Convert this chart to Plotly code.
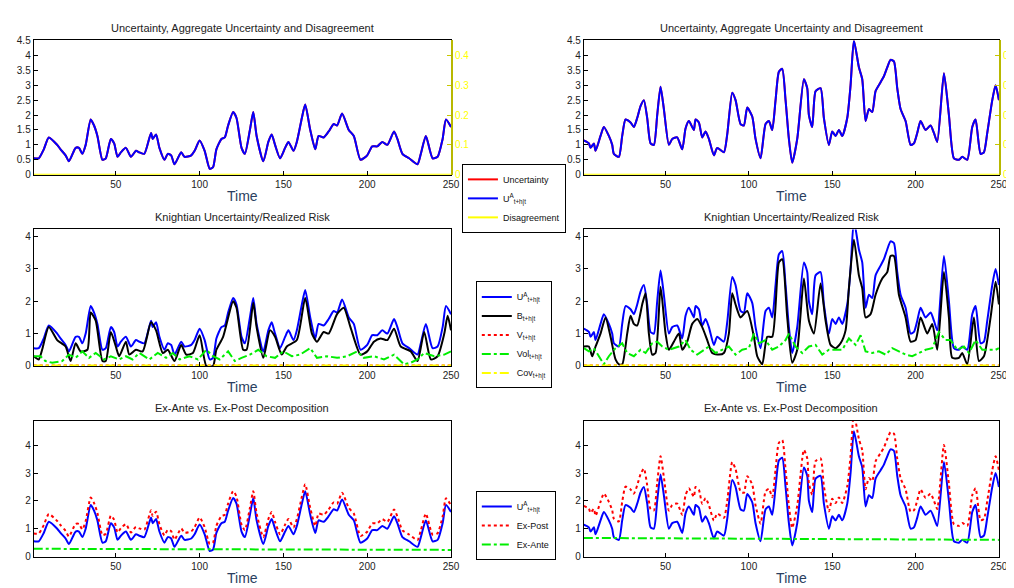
import numpy as np
import plotly.graph_objects as go

# ---- data (time index, value) ----
u_left_t = [1, 4, 7, 10, 15, 17, 20, 22, 26, 28, 30, 32, 35, 37, 39, 42, 44, 47, 49, 51, 53, 56, 59, 62,
            64, 67, 71, 72, 74, 76, 79, 81, 83, 85, 89, 91, 95, 97, 100, 103, 106, 108, 110, 113, 115, 117,
            120, 122, 125, 127, 130, 132, 134, 138, 141, 143, 145, 148, 151, 153, 156, 158, 161, 163, 166,
            169, 171, 174, 177, 180, 182, 185, 189, 192, 196, 200, 203, 206, 209, 212, 216, 218, 221, 225,
            230, 232, 235, 239, 242, 245, 247, 250]
u_left = [0.55, 0.55, 0.85, 1.25, 1.0, 0.85, 0.65, 0.45, 0.9, 0.9, 0.7, 1.0, 1.85, 1.65, 1.3, 0.5, 0.55,
          1.2, 1.05, 0.6, 0.75, 0.9, 0.6, 0.8, 0.75, 0.7, 1.4, 1.2, 1.35, 0.9, 0.5, 0.7, 0.65, 0.35, 0.75,
          0.6, 0.65, 0.8, 1.15, 0.8, 0.2, 0.25, 0.85, 1.2, 1.25, 1.65, 2.1, 1.9, 0.9, 0.7, 1.5, 2.1, 1.3,
          0.45, 1.1, 1.35, 1.0, 0.55, 0.9, 1.1, 0.8, 1.1, 1.9, 2.35, 1.5, 0.85, 1.3, 1.25, 1.45, 1.7, 1.65,
          2.05, 1.5, 1.3, 0.5, 0.65, 0.95, 0.95, 1.1, 1.0, 1.45, 1.2, 0.7, 0.55, 0.35, 0.7, 1.3, 0.55, 0.6,
          1.2, 1.85, 1.6]

u_right_t = [1, 4, 5, 7, 8, 11, 13, 16, 18, 19, 22, 24, 26, 29, 31, 33, 35, 37, 39, 41, 43, 45, 47, 49,
             52, 54, 57, 60, 62, 64, 67, 68, 70, 72, 74, 76, 79, 81, 85, 87, 90, 92, 95, 97, 99, 102, 104,
             107, 110, 112, 114, 116, 118, 120, 122, 124, 126, 129, 133, 135, 136, 138, 140, 143, 145, 148,
             150, 152, 154, 156, 159, 161, 163, 166, 168, 170, 172, 174, 176, 179, 181, 183, 185, 187, 189,
             191, 194, 197, 199, 201, 203, 206, 209, 211, 213, 217, 220, 223, 226, 228, 231, 234, 236, 239,
             241, 243, 246, 248, 250]
u_right = [1.15, 1.05, 0.9, 1.05, 0.8, 1.3, 1.6, 1.3, 1.0, 0.7, 0.6, 1.3, 1.85, 1.75, 1.6, 1.9, 2.3, 2.5,
           1.9, 1.05, 1.0, 2.0, 2.95, 2.2, 1.0, 1.2, 1.25, 0.85, 1.55, 1.8, 1.5, 1.85, 1.75, 1.25, 1.45, 1.2,
           0.65, 0.9, 0.75, 1.35, 2.75, 2.5, 1.7, 1.65, 2.25, 1.95, 1.2, 0.55, 1.7, 1.8, 1.5, 2.5, 3.45, 3.55,
           2.5, 1.2, 0.4, 1.2, 3.2, 2.9, 2.0, 1.6, 2.8, 2.9, 1.9, 1.0, 1.45, 1.3, 1.5, 1.3, 1.9, 3.0, 4.5,
           3.6, 3.2, 1.8, 2.2, 2.1, 2.8, 3.1, 3.3, 3.6, 3.85, 3.8, 2.9, 2.2, 1.8, 1.0, 1.05, 1.4, 1.8, 1.5,
           1.65, 1.4, 1.1, 3.4, 2.0, 0.55, 0.5, 0.6, 0.5, 1.6, 1.85, 0.7, 0.75, 1.4, 2.5, 3.0, 2.5]

b_left_t = [1, 4, 6, 10, 15, 20, 23, 26, 29, 33, 35, 38, 42, 44, 47, 50, 52, 56, 58, 62, 66, 71, 74, 78,
            81, 85, 89, 92, 96, 100, 104, 108, 110, 114, 120, 122, 126, 128, 132, 134, 138, 142, 145, 149,
            152, 158, 163, 167, 170, 174, 177, 182, 186, 190, 196, 200, 204, 208, 212, 216, 220, 226, 230,
            234, 238, 242, 246, 248, 250]
b_left = [0.3, 0.2, 0.5, 1.2, 0.8, 0.6, 0.15, 0.7, 0.45, 0.5, 1.65, 1.4, 0.15, 0.15, 1.05, 0.6, 0.3, 0.75,
          0.35, 0.5, 0.45, 1.35, 1.1, 0.4, 0.5, 0.15, 0.65, 0.35, 0.4, 0.95, 0.0, 0.0, 0.5, 0.9, 2.0, 1.8,
          0.5, 0.5, 1.95, 1.2, 0.25, 1.1, 0.9, 0.35, 0.6, 0.8, 2.1, 1.0, 0.75, 1.05, 1.0, 1.6, 1.8, 1.2,
          0.35, 0.45, 0.75, 0.85, 0.8, 1.15, 0.6, 0.45, 0.15, 1.05, 0.2, 0.3, 1.0, 1.55, 1.1]

b_right_t = [1, 4, 6, 8, 11, 14, 17, 20, 22, 24, 27, 29, 31, 33, 36, 38, 40, 42, 44, 47, 50, 52, 55, 58,
             60, 63, 66, 69, 72, 75, 78, 82, 85, 88, 90, 92, 95, 99, 103, 105, 108, 111, 114, 118, 120, 123,
             126, 129, 133, 136, 139, 143, 146, 149, 152, 155, 158, 160, 163, 166, 168, 170, 173, 176, 180,
             183, 185, 187, 190, 194, 197, 200, 203, 207, 210, 213, 217, 220, 222, 226, 228, 231, 235, 238,
             241, 245, 248, 250]
b_right = [0.6, 0.6, 0.3, 0.6, 1.0, 1.5, 0.9, 0.2, 0.05, 0.05, 1.0, 1.55, 1.3, 1.25, 1.9, 2.25, 1.0, 0.35,
           0.4, 2.45, 1.0, 0.5, 0.75, 1.0, 0.5, 0.75, 1.3, 1.45, 1.2, 0.8, 0.4, 0.35, 0.4, 1.0, 2.25, 1.9,
           1.5, 1.7, 0.9, 0.3, 0.05, 0.9, 0.9, 3.2, 3.3, 1.5, 0.1, 0.5, 2.7, 1.4, 1.0, 2.55, 1.4, 0.65, 0.55,
           0.7, 1.1, 2.4, 3.9, 2.8, 2.4, 1.5, 1.6, 2.2, 2.7, 2.9, 3.4, 3.4, 2.2, 1.5, 0.75, 0.8, 1.5, 1.0,
           1.3, 0.5, 2.9, 1.5, 0.25, 0.25, 0.4, 0.05, 1.5, 0.15, 0.3, 1.5, 2.6, 1.9]

vol_left_t = [1, 5, 8, 12, 18, 22, 26, 30, 34, 38, 43, 47, 52, 56, 60, 64, 70, 75, 80, 84, 88, 94, 99, 104,
              108, 112, 117, 121, 125, 130, 135, 140, 145, 150, 155, 160, 166, 170, 176, 182, 188, 194, 198,
              204, 210, 216, 222, 226, 230, 234, 240, 246, 250]
vol_left = [0.3, 0.3, 0.15, 0.1, 0.15, 0.35, 0.25, 0.45, 0.25, 0.4, 0.2, 0.3, 0.2, 0.3, 0.2, 0.4, 0.2, 0.4,
            0.25, 0.4, 0.2, 0.3, 0.2, 0.5, 0.3, 0.2, 0.45, 0.15, 0.25, 0.35, 0.5, 0.3, 0.25, 0.45, 0.3, 0.35,
            0.55, 0.25, 0.3, 0.25, 0.3, 0.45, 0.25, 0.3, 0.2, 0.35, 0.05, 0.1, 0.2, 0.4, 0.3, 0.35, 0.45]

vol_right_t = [1, 4, 7, 10, 13, 16, 20, 24, 27, 31, 35, 38, 42, 45, 48, 52, 55, 58, 62, 65, 69, 73, 76, 80,
               84, 88, 92, 96, 100, 103, 106, 110, 114, 118, 122, 124, 128, 132, 136, 140, 144, 148, 152,
               156, 160, 164, 167, 170, 174, 178, 182, 186, 190, 194, 198, 202, 206, 210, 214, 218, 221, 225,
               229, 232, 236, 240, 244, 248, 250]
vol_right = [0.55, 0.45, 0.55, 0.3, 0.05, 0.3, 0.55, 0.7, 0.4, 0.3, 0.5, 0.4, 0.7, 0.75, 0.6, 0.5, 0.55,
             0.6, 0.8, 0.5, 0.35, 0.5, 0.6, 0.4, 0.5, 0.6, 0.35, 0.5, 0.55, 1.0, 0.7, 0.8, 0.5, 0.6, 0.8, 1.0,
             0.6, 0.4, 0.6, 0.65, 0.35, 0.5, 0.5, 0.5, 0.85, 0.65, 0.95, 0.45, 0.4, 0.45, 0.35, 0.55, 0.45,
             0.35, 0.3, 0.4, 0.5, 0.55, 1.05, 0.8, 0.8, 0.5, 0.6, 0.4, 0.8, 0.5, 0.5, 0.5, 0.55]

exante_left_t = [1, 125, 250]
exante_left = [0.28, 0.25, 0.24]
exante_right_t = [1, 125, 250]
exante_right = [0.67, 0.63, 0.6]

xdom = {"L": [0.0256, 0.4408], "R": [0.573, 0.986]}
ydom = [[0.721, 0.954], [0.389, 0.626], [0.058, 0.294]]
yrng = [[0, 4.5], [0, 4.22], [0, 4.88]]
ytick = [[0, 0.5, 1, 1.5, 2, 2.5, 3, 3.5, 4, 4.5], [0, 1, 2, 3, 4], [0, 1, 2, 3, 4]]
titles = ["Uncertainty, Aggregate Uncertainty and Disagreement",
          "Knightian Uncertainty/Realized Risk",
          "Ex-Ante vs. Ex-Post Decomposition"]

UA = "U<sup>A</sup><sub>t+h|t</sub>"
BLUE, BLACK, RED, GREEN, YEL = "#0000ff", "#000000", "#ff0000", "#00ee00", "#ffff00"
SMOOTH = dict(shape="spline", smoothing=0.6)

fig = go.Figure()
layout = {}
axn = 0
data = {"L": (u_left_t, u_left, b_left_t, b_left, vol_left_t, vol_left, exante_left_t, exante_left),
        "R": (u_right_t, u_right, b_right_t, b_right, vol_right_t, vol_right, exante_right_t, exante_right)}
ax_ids = {}
for row in range(3):
    for side in ["L", "R"]:
        axn += 1
        sfx = "" if axn == 1 else str(axn)
        ax_ids[(row, side)] = sfx
        common = dict(showline=True, linecolor="black", linewidth=1, mirror=True, ticks="inside",
                      ticklen=4, tickcolor="black", showgrid=False, zeroline=False,
                      tickfont=dict(size=10, color="#222"))
        layout["xaxis" + sfx] = dict(common, domain=xdom[side], anchor="y" + sfx, range=[1, 250],
                                     tickvals=[50, 100, 150, 200, 250],
                                     title=dict(text="Time", font=dict(size=14), standoff=2))
        layout["yaxis" + sfx] = dict(common, domain=ydom[row], anchor="x" + sfx, range=yrng[row],
                                     tickvals=ytick[row])
        fig.add_annotation(text=titles[row], xref="paper", yref="paper", xanchor="center",
                           x=sum(xdom[side]) / 2, y=ydom[row][1] + 0.008, yanchor="bottom",
                           showarrow=False, font=dict(size=11, color="#222"))

# secondary (disagreement) axes on first row
for side, n in [("L", 7), ("R", 8)]:
    layout["yaxis%d" % n] = dict(overlaying="y" + ax_ids[(0, side)], side="right",
                                 anchor="x" + ax_ids[(0, side)], range=[0, 0.45],
                                 tickvals=[0, 0.1, 0.2, 0.3, 0.4], ticks="inside", ticklen=4,
                                 tickcolor="#c8c800", showgrid=False, zeroline=False,
                                 showline=True, linecolor="#b8b800", linewidth=2,
                                 tickfont=dict(size=10, color=YEL))

for side in ["L", "R"]:
    ut, u, bt, b, vt, v, et, e = data[side]
    show = side == "L"
    # row 1
    s = ax_ids[(0, side)]
    fig.add_trace(go.Scatter(x=ut, y=u, mode="lines", line=dict(color=RED, width=2, **SMOOTH), name="Uncertainty",
                             xaxis="x" + s, yaxis="y" + s, legend="legend", showlegend=show))
    fig.add_trace(go.Scatter(x=ut, y=u, mode="lines", line=dict(color=BLUE, width=2, **SMOOTH), name=UA,
                             xaxis="x" + s, yaxis="y" + s, legend="legend", showlegend=show))
    fig.add_trace(go.Scatter(x=[1, 250], y=[0, 0], mode="lines", line=dict(color=YEL, width=2),
                             name="Disagreement", xaxis="x" + s, yaxis="y7" if side == "L" else "y8",
                             legend="legend", showlegend=show))
    # row 2
    s = ax_ids[(1, side)]
    fig.add_trace(go.Scatter(x=ut, y=u, mode="lines", line=dict(color=BLUE, width=2, **SMOOTH), name=UA,
                             xaxis="x" + s, yaxis="y" + s, legend="legend2", showlegend=show))
    fig.add_trace(go.Scatter(x=bt, y=b, mode="lines", line=dict(color=BLACK, width=2, **SMOOTH),
                             name="B<sub>t+h|t</sub>", xaxis="x" + s, yaxis="y" + s, legend="legend2",
                             showlegend=show))
    fig.add_trace(go.Scatter(x=[1, 250], y=[0.01, 0.01], mode="lines", line=dict(color=RED, width=2, dash="dot"),
                             name="V<sub>t+h|t</sub>", xaxis="x" + s, yaxis="y" + s, legend="legend2",
                             showlegend=show))
    fig.add_trace(go.Scatter(x=vt, y=v, mode="lines", line=dict(color=GREEN, width=2, dash="dashdot"),
                             name="Vol<sub>t+h|t</sub>", xaxis="x" + s, yaxis="y" + s, legend="legend2",
                             showlegend=show))
    fig.add_trace(go.Scatter(x=[1, 250], y=[0.01, 0.01], mode="lines", line=dict(color=YEL, width=2, dash="dashdot"),
                             name="Cov<sub>t+h|t</sub>", xaxis="x" + s, yaxis="y" + s, legend="legend2",
                             showlegend=show))
    # row 3: ex-post = aggregate uncertainty + ex-ante component
    s = ax_ids[(2, side)]
    expost = np.array(u) + np.interp(ut, et, e)
    fig.add_trace(go.Scatter(x=ut, y=u, mode="lines", line=dict(color=BLUE, width=2, **SMOOTH), name=UA,
                             xaxis="x" + s, yaxis="y" + s, legend="legend3", showlegend=show))
    fig.add_trace(go.Scatter(x=ut, y=expost, mode="lines", line=dict(color=RED, width=2, dash="dot", **SMOOTH),
                             name="Ex-Post", xaxis="x" + s, yaxis="y" + s, legend="legend3",
                             showlegend=show))
    fig.add_trace(go.Scatter(x=et, y=e, mode="lines", line=dict(color=GREEN, width=2, dash="dashdot"),
                             name="Ex-Ante", xaxis="x" + s, yaxis="y" + s, legend="legend3",
                             showlegend=show))

leg = dict(bgcolor="white", bordercolor="black", borderwidth=1, font=dict(size=9, color="#111"),
           xanchor="left", yanchor="top", tracegroupgap=0, itemwidth=30)
fig.update_layout(
    width=1014, height=588, margin=dict(l=0, r=0, t=0, b=0),
    paper_bgcolor="white", plot_bgcolor="white",
    font=dict(family="Liberation Sans, Arial, sans-serif"),
    legend=dict(leg, x=458 / 1014, y=1 - 153 / 588),
    legend2=dict(leg, x=472 / 1014, y=1 - 273 / 588),
    legend3=dict(leg, x=472 / 1014, y=1 - 487 / 588),
    **layout,
)
fig.write_html("out.html")
